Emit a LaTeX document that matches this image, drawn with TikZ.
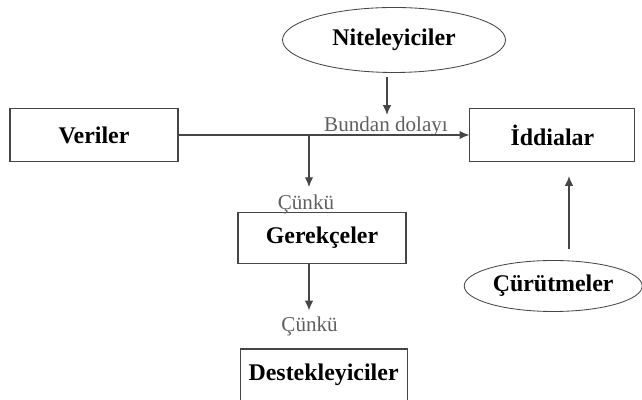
\documentclass[tikz,border=0pt]{standalone}
\usepackage{fontspec}
\setmainfont{Liberation Serif}
\usetikzlibrary{shapes.geometric,arrows.meta}
\definecolor{linegray}{RGB}{70,70,70}
\definecolor{labelgray}{RGB}{95,95,95}
\tikzset{
  box/.style={rectangle,draw=linegray,line width=0.8pt,font=\bfseries\fontsize{17}{20}\selectfont},
  oval/.style={ellipse,draw=linegray,line width=0.6pt,inner sep=0pt,font=\bfseries\fontsize{17}{20}\selectfont},
  tag/.style={text=labelgray,inner sep=1pt,font=\fontsize{15}{18}\selectfont},
  link/.style={draw=linegray,line width=0.9pt,-{Latex[length=7pt,width=6pt]}}
}
\begin{document}
\begin{tikzpicture}
    \useasboundingbox (0,0) rectangle (16.05,10);

      \begin{scope}[every node/.style={box}]
        \node (veri)   at (2.35,6.625)  [minimum width=4.2cm,minimum height=1.325cm]   {Veriler};
        \node (iddia)  at (13.81,6.625) [minimum width=4.125cm,minimum height=1.325cm] {İddialar};
        \node (gerek)  at (8.05,4.05)   [minimum width=4.2cm,minimum height=1.275cm]   {Gerekçeler};
        \node (destek) at (8.09,0.625)  [minimum width=4.175cm,minimum height=1.3cm]   {Destekleyiciler};
      \end{scope}

      \begin{scope}[every node/.style={oval}]
        \node (nitel) at (9.85,9.0)   [minimum width=5.575cm,minimum height=1.625cm] {Niteleyiciler};
        \node (curut) at (13.83,2.85) [minimum width=4.45cm,minimum height=1.275cm]  {Çürütmeler};
      \end{scope}

      \begin{scope}[every node/.style={tag}]
        \node (dolayi) at (9.65,6.84) {Bundan dolayı};
        \node (cunkuA) at (7.65,4.9)  {Çünkü};
        \node (cunkuB) at (7.74,1.85) {Çünkü};
      \end{scope}

      % free ends of the short arrows
      \coordinate (nitelEnd) at (9.675,7.125);
      \coordinate (branch)   at (7.725,6.625);
      \coordinate (curutEnd) at (14.225,5.6);

      \begin{scope}[every edge/.style={link}]
        \path (veri.east) edge (iddia.west);
        \path (nitel.south -| nitelEnd) edge[shorten <=3pt] (nitelEnd);
        \path (branch) edge[shorten >=4pt] (branch |- cunkuA.north);
        \path (gerek.south -| branch) edge[shorten >=3pt] (cunkuB.north -| branch);
        \path (curut.north -| curutEnd) edge[shorten <=8pt] (curutEnd);
      \end{scope}

    \end{tikzpicture}
\end{document}
